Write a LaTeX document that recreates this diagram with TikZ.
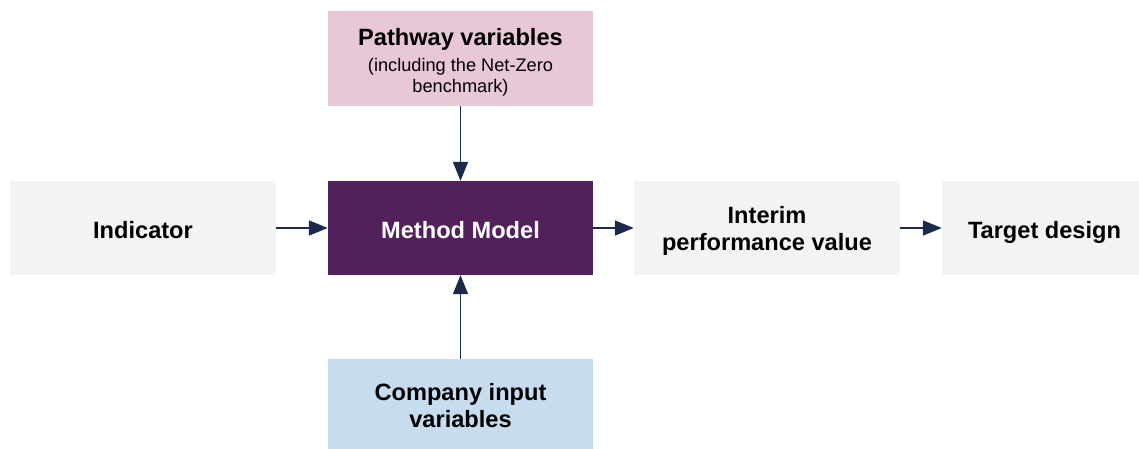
\documentclass[tikz,border=0pt]{standalone}
\usepackage{fontspec}
\setmainfont{Liberation Sans}
\usetikzlibrary{arrows.meta}
\definecolor{pinkbox}{HTML}{E8C7D7}
\definecolor{purplebox}{HTML}{52215C}
\definecolor{graybox}{HTML}{F3F3F3}
\definecolor{bluebox}{HTML}{C8DCEF}
\definecolor{arrowc}{HTML}{1B2A4A}
\newcommand{\topstrut}{\rule{0pt}{25pt}}
\newcommand{\botstrut}{\rule[-5pt]{0pt}{0pt}}
\newcommand{\botstrutb}{\rule[-8pt]{0pt}{0pt}}
\tikzset{
  box/.style={rectangle, draw=none, inner sep=0pt, align=center,
    font=\fontsize{23.6}{27}\selectfont\bfseries, text=black},
  conn/.style={draw=arrowc, line width=1.8pt, -{Triangle[length=19pt,width=15pt]}}
}
\begin{document}
\begin{tikzpicture}[x=1pt,y=1pt]
\useasboundingbox (0,0) rectangle (1139,-448);
\node[box, fill=pinkbox, minimum width=265.5pt, minimum height=95pt,
  font=\fontsize{18.2}{21}\selectfont] (path) at (460.5,-58.5)
  {{\fontsize{23.6}{27}\selectfont\bfseries\topstrut Pathway variables}\\[5pt](including the Net-Zero\\benchmark)\botstrut};
\node[box, fill=purplebox, text=white, minimum width=265pt, minimum height=94pt] (method) at (460.5,-228) {\topstrut Method Model\botstrut};
\node[box, fill=graybox, minimum width=266pt, minimum height=94pt] (ind) at (143,-228) {\topstrut Indicator\botstrut};
\node[box, fill=graybox, minimum width=266pt, minimum height=94pt] (interim) at (767,-228) {\topstrut Interim\\performance value\botstrutb};
\node[box, fill=graybox, minimum width=205pt, minimum height=94pt] (target) at (1044.5,-228) {\topstrut Target design\botstrut};
\node[box, fill=bluebox, minimum width=265pt, minimum height=92pt] (company) at (460.5,-405) {\topstrut Company input\\variables\botstrutb};
\draw[conn] (ind.east) -- (method.west);
\draw[conn] (method.east) -- (interim.west);
\draw[conn] (interim.east) -- (target.west);
\draw[conn] (path.south) -- (method.north);
\draw[conn] (company.north) -- (method.south);
\end{tikzpicture}
\end{document}
